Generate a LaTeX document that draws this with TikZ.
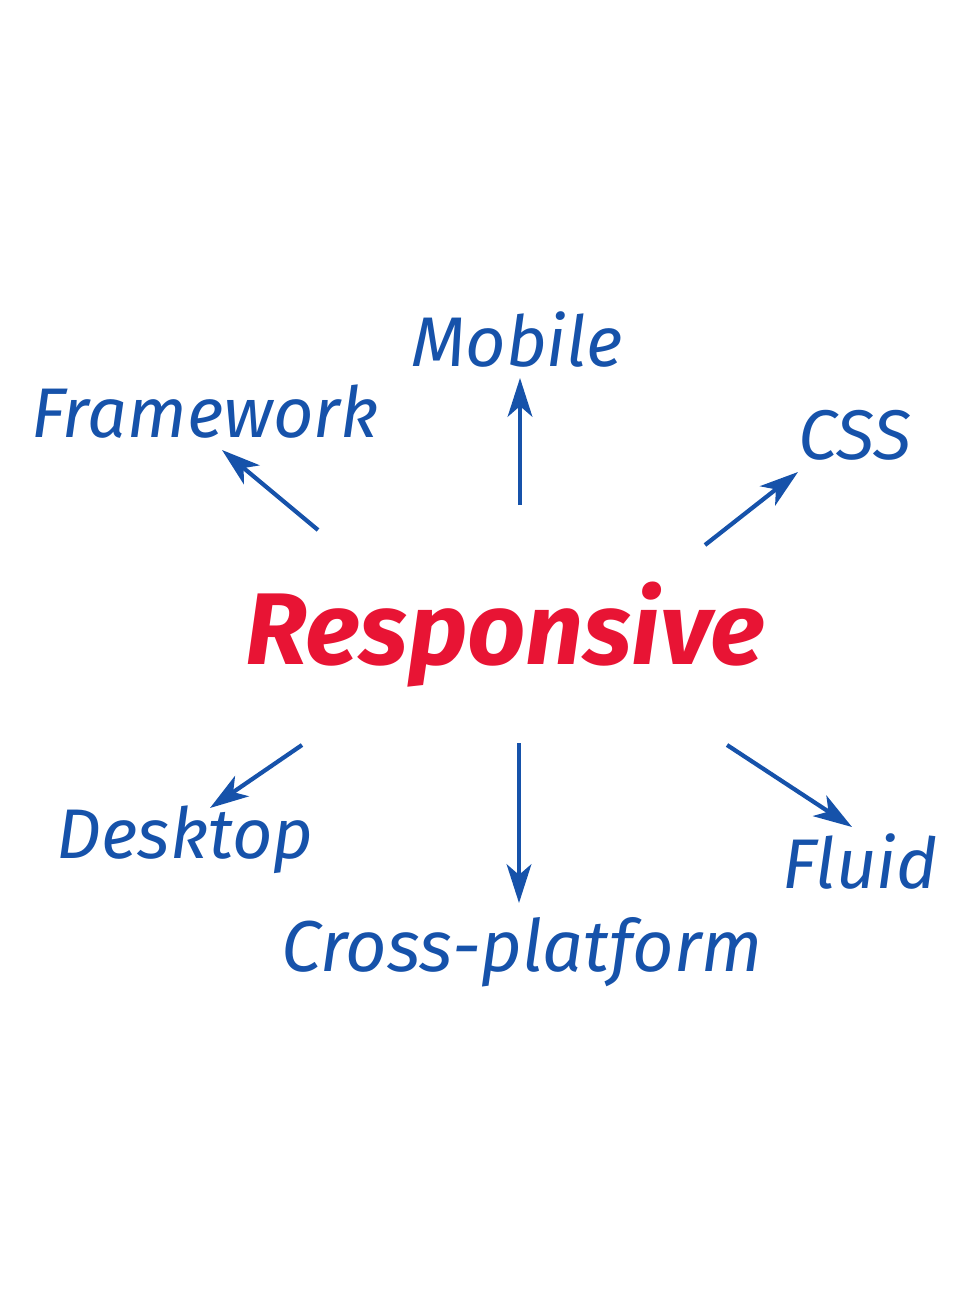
\documentclass[tikz,border=0pt]{standalone}
\usepackage{fontspec}
\setmainfont{Fira Sans}
\usetikzlibrary{arrows.meta}
\definecolor{penblue}{RGB}{22,82,170}
\definecolor{penred}{RGB}{232,20,52}
\tikzset{
  word/.style={text=penblue,font=\fontsize{40}{44}\selectfont\itshape,inner sep=0pt},
  ray/.style={draw=penblue,line width=2.4pt,-{Stealth[length=22pt,width=14pt,inset=6pt]}}
}
\begin{document}
\begin{tikzpicture}[x=0.02cm,y=-0.02cm]
  \useasboundingbox (0,0) rectangle (960,1300); %page frame

  \node[text=penred,inner sep=0pt,font=\fontsize{58}{62}\selectfont\bfseries\itshape] (resp) at (505,635) {Responsive}; %centre word

  \node[word] (mobile) at (517,340) {Mobile};
  \node[word] (frame) at (205,412) {Framework};
  \node[word] (css) at (855,435) {CSS};
  \node[word] (desk) at (185,840) {Desktop};
  \node[word] (fluid) at (860,862) {Fluid};
  \node[word,font=\fontsize{41}{44}\selectfont\itshape] (cross) at (522,952) {Cross-platform};

  \coordinate (f0) at (318,530); \coordinate (f1) at (222,450);
  \coordinate (m0) at (520,505); \coordinate (m1) at (520,378);
  \coordinate (c0) at (705,545); \coordinate (c1) at (798,472);
  \coordinate (d0) at (302,745); \coordinate (d1) at (210,808);
  \coordinate (x0) at (519,743); \coordinate (x1) at (519,903);
  \coordinate (u0) at (727,745); \coordinate (u1) at (852,827);

  \draw[ray] (f0) -- (f1); %to Framework
  \draw[ray] (m0) -- (m1); %to Mobile
  \draw[ray] (c0) -- (c1); %to CSS
  \draw[ray] (d0) -- (d1); %to Desktop
  \draw[ray] (x0) -- (x1); %to Cross-platform
  \draw[ray] (u0) -- (u1); %to Fluid
\end{tikzpicture}
\end{document}
